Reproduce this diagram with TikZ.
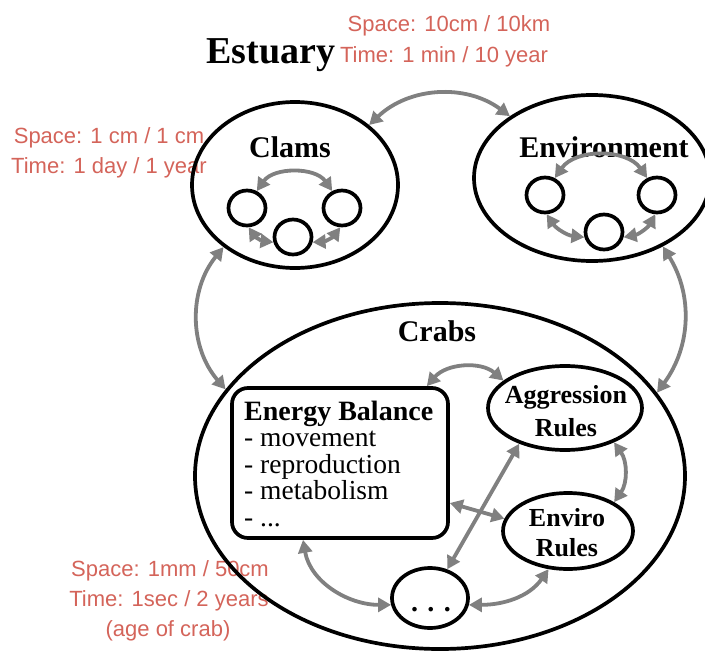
\documentclass[tikz,border=0pt]{standalone}
\usepackage{fontspec}
\setmainfont{Liberation Serif}
\newfontfamily\notefont{Liberation Sans}
\usetikzlibrary{arrows.meta,shapes.geometric}
\definecolor{notered}{RGB}{212,100,90}
\definecolor{linkgray}{RGB}{128,128,128}
\tikzset{
  note/.style={font=\notefont\fontsize{22}{26}\selectfont, text=notered, anchor=base, inner sep=0pt},
  title/.style={font=\bfseries\fontsize{30}{34}\selectfont, anchor=base, inner sep=0pt},
  subtitle/.style={font=\bfseries\fontsize{26}{30}\selectfont, anchor=base, inner sep=0pt},
  item/.style={font=\fontsize{27.5}{31}\selectfont, anchor=base west, inner sep=0pt},
  oval/.style={draw, ellipse, line width=3.7pt, inner sep=0pt},
  agent/.style={oval, minimum width=37pt, minimum height=35pt},
  link/.style={draw=linkgray, line width=3.8pt,
    {Triangle[length=13pt,width=14pt]}-{Triangle[length=13pt,width=14pt]}},
}
\begin{document}
\begin{tikzpicture}[x=1pt,y=1pt]
\useasboundingbox (0,0) rectangle (705,-653);

% scale notes
\node[note] (s1) at (449,-31) {Space: 10cm / 10km};
\node[note] (t1) at (444,-62) {Time: 1 min / 10 year};
\node[note] (s2) at (109,-143) {Space: 1 cm / 1 cm};
\node[note] (t2) at (109,-173) {Time: 1 day / 1 year};
\node[note] (s3) at (170,-576) {Space: 1mm / 50cm};
\node[note] (t3) at (169,-606) {Time: 1sec / 2 years};
\node[note] (a3) at (168,-636) {(age of crab)};

\node[title, font=\bfseries\fontsize{38}{42}\selectfont] (estuary) at (271,-63) {Estuary};

% clams
\node[oval, minimum width=206pt, minimum height=166pt] (clams) at (295,-185) {};
\node[title] (clamsl) at (290,-157) {Clams};
\node[agent] (c1) at (247,-208) {};
\node[agent] (c2) at (342,-208) {};
\node[agent] (c3) at (293,-237) {};

% environment
\node[oval, minimum width=236pt, minimum height=166pt] (env) at (592,-178) {};
\node[title] (envl) at (604,-157) {Environment};
\node[agent] (e1) at (545,-195) {};
\node[agent] (e2) at (657,-195) {};
\node[agent] (e3) at (604,-232) {};

% crabs
\node[oval, minimum width=490pt, minimum height=346pt] (crabs) at (440,-476) {};
\node[title] (crabsl) at (437,-341) {Crabs};

\node[draw, line width=3.7pt, rounded corners=16pt, minimum width=216pt,
      minimum height=150pt, inner sep=0pt] (ebox) at (340,-463) {};
\node[item, font=\bfseries\fontsize{28}{32}\selectfont] (eh) at (244,-420) {Energy Balance};
\node[item] (i1) at (244,-446) {- movement};
\node[item] (i2) at (244,-473) {- reproduction};
\node[item] (i3) at (244,-499) {- metabolism};
\node[item] (i4) at (244,-526) {- ...};

\node[oval, minimum width=154pt, minimum height=84pt] (agg) at (565,-408) {};
\node[subtitle] (aggl1) at (566,-403) {Aggression};
\node[subtitle] (aggl2) at (566,-436) {Rules};

\node[oval, minimum width=130pt, minimum height=76pt] (envr) at (568,-531) {};
\node[subtitle] (envrl1) at (567,-526) {Enviro};
\node[subtitle] (envrl2) at (567,-556) {Rules};

\node[oval, minimum width=76pt, minimum height=60pt] (dots) at (430,-598) {};
\node[title, font=\bfseries\fontsize{28}{32}\selectfont] (dotsl) at (431,-611) {. . .};

% links between models
\draw[link] (clams.39) to[bend left=40] (env.143);
\draw[link] (clams.221) to[bend right=40] (crabs.158);
\draw[link] (env.316) to[bend left=34] (crabs.21);

% links inside clams and environment
\draw[link] (c1.60) to[bend left=55] (c2.120);
\draw[link] (c1.275) to[bend right=25] (c3.195);
\draw[link] (c3.345) to[bend right=25] (c2.265);
\draw[link] (e1.60) to[bend left=55] (e2.120);
\draw[link] (e1.275) to[bend right=25] (e3.195);
\draw[link] (e3.345) to[bend right=25] (e2.265);

% links inside crabs
\draw[link] ([xshift=-23pt]ebox.north east) to[bend left=45] (agg.156);
\draw[link] (agg.325) to[bend left=35] (envr.32);
\draw[link] ([yshift=-40pt]ebox.east) -- (envr.169);
\draw[link] (dots.59) -- (agg.218);
\draw[link] ([xshift=-37pt]ebox.south) to[out=-80,in=180] (dots.190);
\draw[link] (dots.350) to[out=0,in=-125] (envr.243);
\end{tikzpicture}
\end{document}
